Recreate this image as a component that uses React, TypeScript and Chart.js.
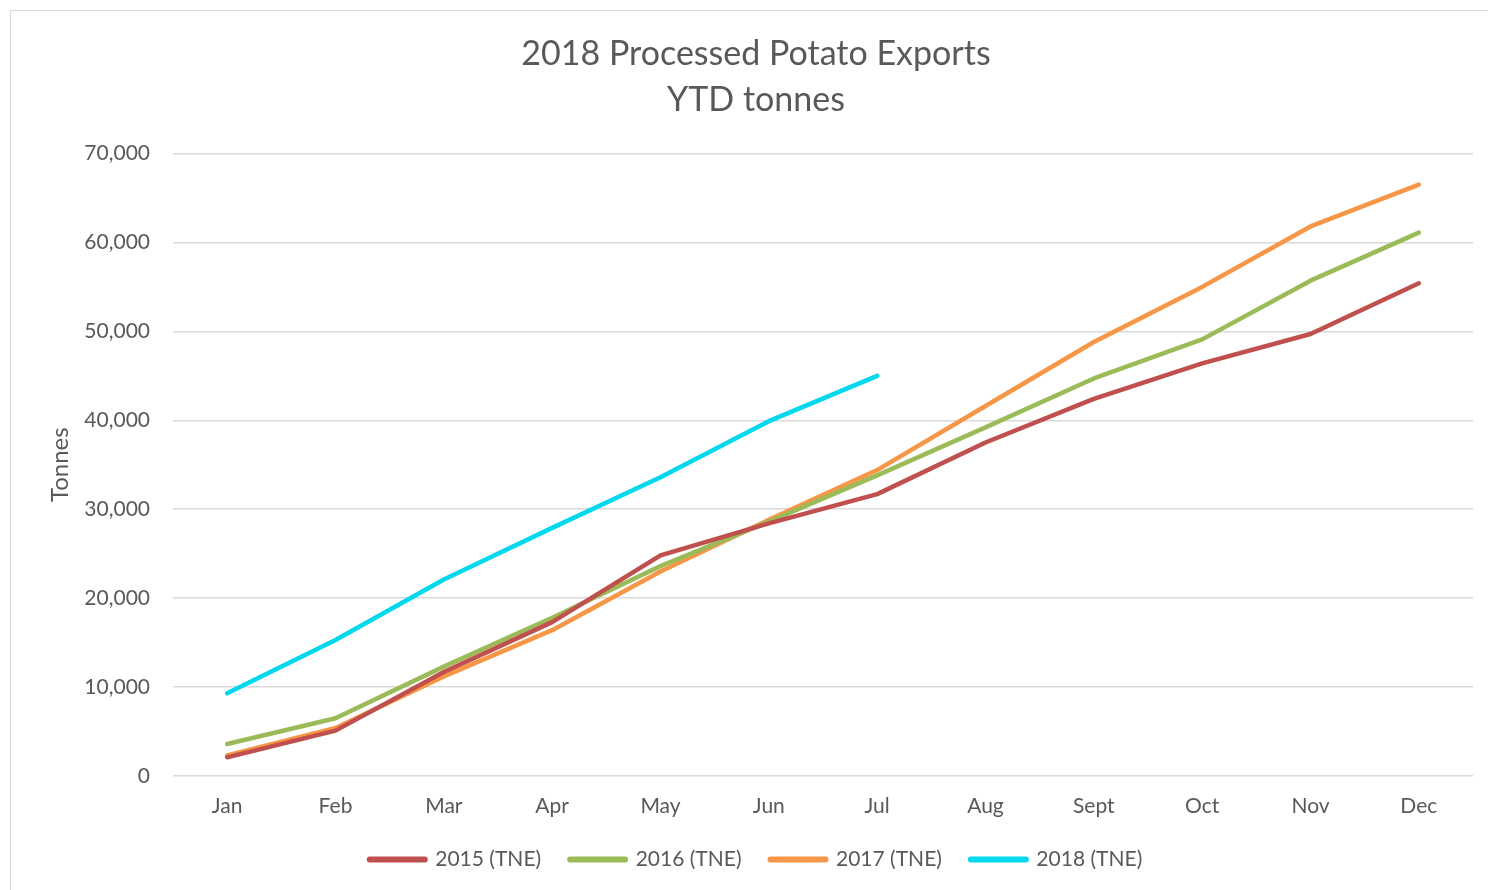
import React, { useEffect, useRef } from "react";
import { Chart, registerables } from "chart.js";

Chart.register(...registerables);

const months = ["Jan", "Feb", "Mar", "Apr", "May", "Jun", "Jul", "Aug", "Sept", "Oct", "Nov", "Dec"];
const series2015 = [2100, 5100, 11700, 17300, 24800, 28400, 31700, 37500, 42400, 46400, 49700, 55400];
const series2016 = [3600, 6500, 12300, 17800, 23600, 28600, 33800, 39200, 44700, 49100, 55700, 61100];
const series2017 = [2300, 5400, 11200, 16400, 23000, 28800, 34400, 41600, 48800, 55000, 61800, 66500];
const series2018 = [9300, 15300, 22100, 27900, 33600, 39900, 45000, null, null, null, null, null];
const seriesLabels = ["2015 (TNE)", "2016 (TNE)", "2017 (TNE)", "2018 (TNE)"];
const seriesColors = ["#C0504D", "#9BBB59", "#F79646", "#00D8EE"];
const titleLines = ["2018 Processed Potato Exports", "YTD tonnes"];
const yAxisTitle = "Tonnes";

const FONT = "Lato, 'Open Sans', sans-serif";
const TEXT = "#595959";

export default function App() {
  const ref = useRef<HTMLCanvasElement | null>(null);
  useEffect(() => {
    if (!ref.current) return;
    const all = [series2015, series2016, series2017, series2018];
    const chart = new Chart(ref.current, {
      type: "line",
      data: {
        labels: months,
        datasets: all.map((d, i) => ({
          label: seriesLabels[i],
          data: d,
          borderColor: seriesColors[i],
          backgroundColor: seriesColors[i],
          borderWidth: 4.5,
          borderCapStyle: "round",
          borderJoinStyle: "round",
          pointRadius: 0,
          pointHoverRadius: 0,
          tension: 0,
          spanGaps: false,
          fill: false,
        })),
      },
      options: {
        animation: false,
        responsive: false,
        maintainAspectRatio: false,
        layout: { padding: { left: 28, right: 15, top: 0, bottom: 0 } },
        plugins: {
          title: {
            display: true,
            text: titleLines,
            color: TEXT,
            font: { family: FONT, size: 34, weight: "normal", lineHeight: 1.35 },
            padding: { top: 20.5, bottom: 30.2 },
          },
          legend: {
            display: true,
            position: "bottom",
            labels: {
              usePointStyle: true,
              pointStyle: "line",
              pointStyleWidth: 55,
              boxHeight: 21,
              padding: 29,
              color: TEXT,
              font: { family: FONT, size: 21 },
              generateLabels: (c: any) => {
                const items = Chart.defaults.plugins.legend.labels.generateLabels(c);
                return items.map((it: any) => ({ ...it, lineWidth: 6, lineCap: "round", pointStyle: "line" }));
              },
            },
          },
          tooltip: { enabled: false },
        },
        scales: {
          x: {
            offset: true,
            grid: { display: false, drawTicks: false },
            border: { display: false },
            ticks: { color: TEXT, font: { family: FONT, size: 21 }, padding: 18, maxRotation: 0 },
            afterFit: (s: any) => { s.height = 44; },
          },
          y: {
            min: 0,
            max: 70000,
            grid: { color: "#D9D9D9", lineWidth: 1.5, drawTicks: false },
            border: { display: false },
            ticks: {
              stepSize: 10000,
              color: TEXT,
              font: { family: FONT, size: 21 },
              padding: 23,
              callback: (v: any) => Number(v).toLocaleString("en-US"),
            },
            title: {
              display: true,
              text: yAxisTitle,
              color: TEXT,
              font: { family: FONT, size: 24 },
              padding: { top: 6.6, bottom: 0 },
            },
            afterFit: (s: any) => { s.width = 134; },
          },
        },
      },
    });
    return () => chart.destroy();
  }, []);

  return (
    <div
      style={{
        position: "fixed",
        left: 10,
        top: 10,
        width: 1500,
        height: 900,
        border: "1px solid #D9D9D9",
        background: "#fff",
        boxSizing: "border-box",
      }}
    >
      <canvas ref={ref} width={1477} height={869} style={{ display: "block" }} />
    </div>
  );
}
